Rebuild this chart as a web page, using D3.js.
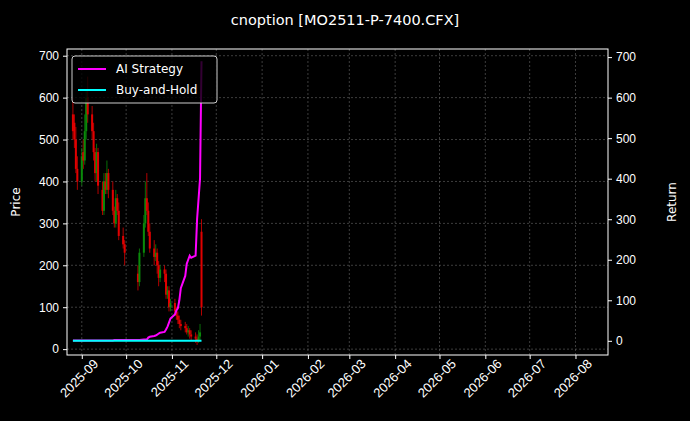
<!DOCTYPE html>
<html><head><meta charset="utf-8">
<script src="https://cdn.jsdelivr.net/npm/d3@7"></script>
<style>body{margin:0;background:#000}svg{font-family:"DejaVu Sans",sans-serif}</style>
</head><body><div id="chart"></div>
<script>
const dates = ['2025-08-26','2025-08-27','2025-08-28','2025-08-29','2025-09-01','2025-09-02','2025-09-03','2025-09-04','2025-09-05',
  '2025-09-08','2025-09-09','2025-09-10','2025-09-11','2025-09-12','2025-09-15','2025-09-16','2025-09-17','2025-09-18','2025-09-19',
  '2025-09-22','2025-09-23','2025-09-24','2025-09-25','2025-09-26','2025-09-29','2025-09-30','2025-10-09','2025-10-10',
  '2025-10-13','2025-10-14','2025-10-15','2025-10-16','2025-10-17','2025-10-20','2025-10-21','2025-10-22','2025-10-23','2025-10-24',
  '2025-10-27','2025-10-28','2025-10-29','2025-10-30','2025-10-31','2025-11-03','2025-11-04','2025-11-05','2025-11-06','2025-11-07',
  '2025-11-10','2025-11-11','2025-11-12','2025-11-13','2025-11-14','2025-11-17','2025-11-18','2025-11-19','2025-11-20','2025-11-21'];
const open  = [560,540,500,430,400,470,450,520,600, 560,520,470,420,470,380,330,400,380,420, 380,330,300,360,330,270,250,180,160, 230,300,360,330,280,240,220,230,200,170, 190,180,130,140,100,110,90,80,70,60, 55,50,40,45,35,30,25,20,30,280];
const close = [520,500,430,400,460,450,520,600,560, 520,470,420,470,390,330,400,380,420,380, 330,300,360,330,270,250,230,160,230, 300,360,330,280,240,220,230,200,170,190, 180,130,140,100,110,90,80,70,60,55, 50,40,45,35,30,25,20,30,40,100];
const high  = [600,560,530,460,480,500,560,620,650, 580,540,480,490,480,400,420,420,450,430, 400,340,380,370,350,290,260,200,240, 320,400,420,350,300,260,250,240,210,200, 200,190,150,150,120,120,100,90,80,70, 65,60,55,50,45,40,35,45,60,310];
const low   = [500,480,420,380,390,430,440,500,540, 500,450,400,400,370,320,320,370,370,360, 320,290,290,320,260,240,200,140,150, 220,290,320,270,230,200,210,180,150,160, 160,120,120,90,90,80,70,60,50,45, 40,35,30,25,20,15,10,15,20,80];
const aiRet = [1,1,1,1,1,1,1,1,1, 1,1,1,1,1,1,1,1,1,1, 1,2,2,2,2,2,2,2,2, 3,3,3,8,10,12,13,15,18,20, 22,28,35,45,55,65,75,80,100,130, 160,190,200,210,205,210,300,350,400,690];
const bhRet = [0,0,0,0,0,0,0,0,0, 0,0,0,0,0,0,0,0,0,0, 0,0,0,0,0,0,0,0,0, 0,0,0,0,0,0,0,0,0,0, 0,0,0,0,0,0,0,0,0,0, 0,0,0,0,0,0,0,0,0,0];
const priceTicks = [0,100,200,300,400,500,600,700];
const retTicks = [0,100,200,300,400,500,600,700];

const W = 690, H = 421, m = {top: 49, right: 82, bottom: 66, left: 67};
const parse = d3.timeParse('%Y-%m-%d');
const data = dates.map((d, i) => ({date: parse(d), o: open[i], c: close[i], h: high[i], l: low[i], ai: aiRet[i], bh: bhRet[i]}));

const svg = d3.select('#chart').append('svg').attr('width', W).attr('height', H);
svg.append('rect').attr('width', W).attr('height', H).attr('fill', '#000');

const x = d3.scaleTime().domain([parse('2025-08-22'), parse('2026-08-23')]).range([m.left, W - m.right]);
const y = d3.scaleLinear().domain([-14, 716]).range([H - m.bottom, m.top]);
const y2 = d3.scaleLinear().domain([-35, 720]).range([H - m.bottom, m.top]);

const months = d3.timeMonth.range(parse('2025-09-01'), parse('2026-08-02'));

// grid
svg.append('g').selectAll('line').data(months).join('line')
  .attr('x1', d => x(d)).attr('x2', d => x(d)).attr('y1', m.top).attr('y2', H - m.bottom)
  .attr('stroke', '#666').attr('stroke-dasharray', '2,2').attr('stroke-width', 0.6);
svg.append('g').selectAll('line').data(priceTicks).join('line')
  .attr('x1', m.left).attr('x2', W - m.right).attr('y1', d => y(d)).attr('y2', d => y(d))
  .attr('stroke', '#666').attr('stroke-dasharray', '2,2').attr('stroke-width', 0.6);

// candles
const col = d => d.c >= d.o ? '#0a8a0a' : '#e00000';
const cg = svg.append('g');
cg.selectAll('line').data(data).join('line')
  .attr('x1', d => x(d.date)).attr('x2', d => x(d.date)).attr('y1', d => y(d.h)).attr('y2', d => y(d.l))
  .attr('stroke', col).attr('stroke-width', 0.8);
cg.selectAll('rect').data(data).join('rect')
  .attr('x', d => x(d.date) - 1).attr('width', 2)
  .attr('y', d => y(Math.max(d.o, d.c))).attr('height', d => Math.max(1, Math.abs(y(d.o) - y(d.c))))
  .attr('fill', col);

// returns
const line = key => d3.line().x(d => x(d.date)).y(d => y2(d[key]));
svg.append('path').datum(data).attr('d', line('ai')).attr('fill', 'none').attr('stroke', '#ff00ff').attr('stroke-width', 2);
svg.append('path').datum(data).attr('d', line('bh')).attr('fill', 'none').attr('stroke', '#00ffff').attr('stroke-width', 2);

// frame
svg.append('rect').attr('x', m.left).attr('y', m.top).attr('width', W - m.right - m.left).attr('height', H - m.bottom - m.top)
  .attr('fill', 'none').attr('stroke', '#fff').attr('stroke-width', 1);

const styleAxis = g => { g.selectAll('path').remove(); g.selectAll('line').attr('stroke', '#fff'); g.selectAll('text').attr('fill', '#fff').attr('font-size', 12); };
svg.append('g').attr('transform', `translate(${m.left},0)`)
  .call(d3.axisLeft(y).tickValues(priceTicks).tickSize(4).tickPadding(4)).call(styleAxis);
svg.append('g').attr('transform', `translate(${W - m.right},0)`)
  .call(d3.axisRight(y2).tickValues(retTicks).tickSize(4).tickPadding(4)).call(styleAxis);
const xa = svg.append('g').attr('transform', `translate(0,${H - m.bottom})`)
  .call(d3.axisBottom(x).tickValues(months).tickFormat(d3.timeFormat('%Y-%m')).tickSize(4)).call(styleAxis);
xa.selectAll('text').attr('font-size', 13).attr('text-anchor', 'end').attr('dx', '0.4em').attr('dy', '0.9em').attr('transform', 'rotate(-45)');

svg.append('text').attr('x', 20).attr('y', (m.top + H - m.bottom) / 2).attr('fill', '#fff').attr('font-size', 12)
  .attr('text-anchor', 'middle').attr('transform', `rotate(-90,20,${(m.top + H - m.bottom) / 2})`).text('Price');
svg.append('text').attr('x', 676).attr('y', (m.top + H - m.bottom) / 2).attr('fill', '#fff').attr('font-size', 12)
  .attr('text-anchor', 'middle').attr('transform', `rotate(-90,676,${(m.top + H - m.bottom) / 2})`).text('Return');
svg.append('text').attr('x', 345).attr('y', 25).attr('fill', '#fff').attr('font-size', 14.5)
  .attr('text-anchor', 'middle').text('cnoption [MO2511-P-7400.CFX]');

// legend
const lg = svg.append('g').attr('transform', `translate(72,56)`);
lg.append('rect').attr('width', 145).attr('height', 47).attr('rx', 3).attr('fill', '#000').attr('fill-opacity', 0.8)
  .attr('stroke', '#ccc');
[['AI Strategy', '#ff00ff'], ['Buy-and-Hold', '#00ffff']].forEach(([t, c], i) => {
  lg.append('line').attr('x1', 6).attr('x2', 34).attr('y1', 13 + i * 21).attr('y2', 13 + i * 21).attr('stroke', c).attr('stroke-width', 2);
  lg.append('text').attr('x', 44).attr('y', 17 + i * 21).attr('fill', '#fff').attr('font-size', 12).text(t);
});
</script></body></html>
